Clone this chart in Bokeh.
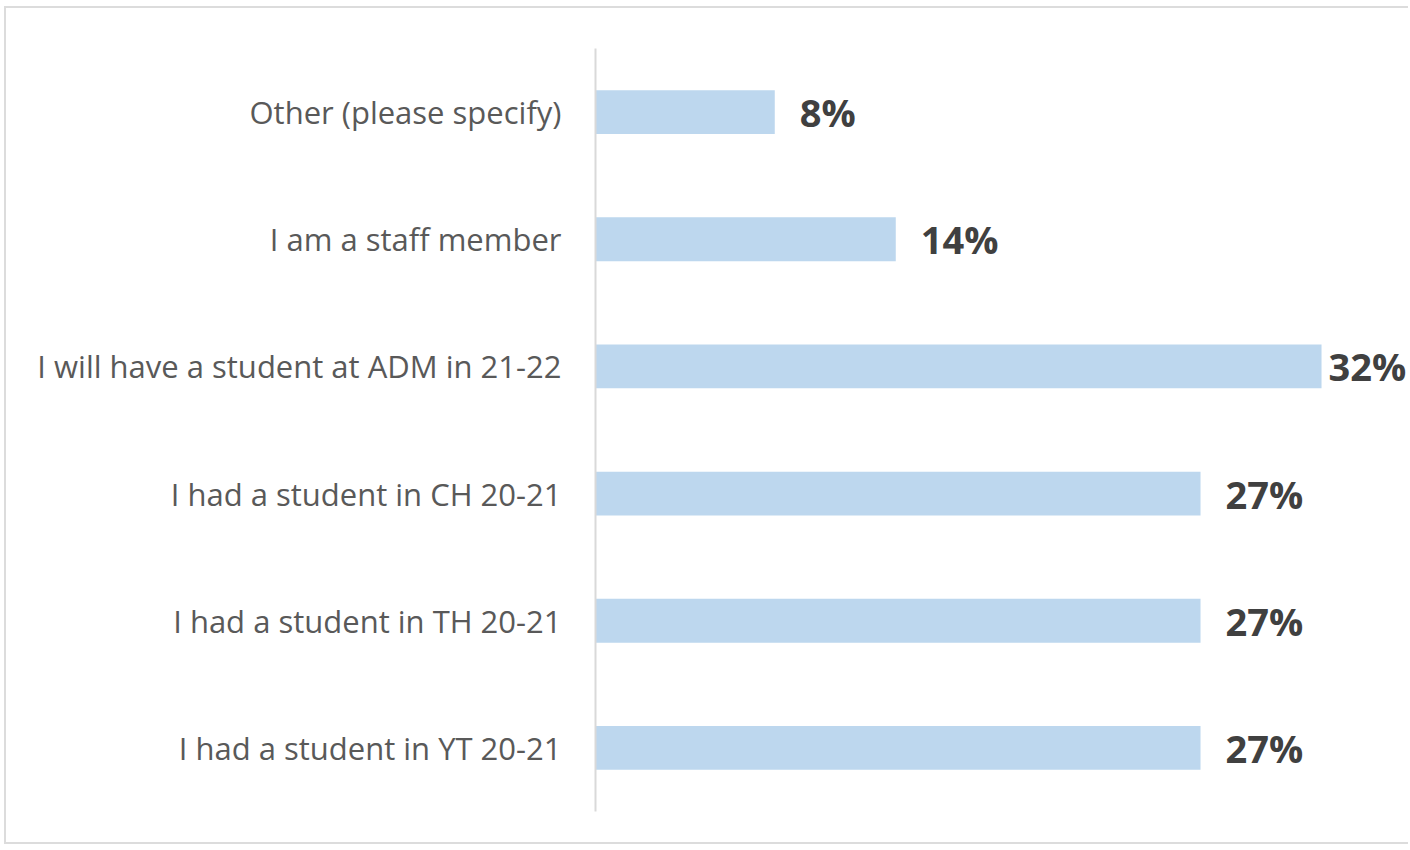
from bokeh.plotting import figure
from bokeh.models import ColumnDataSource, FactorRange, Range1d
from bokeh.core.properties import value
from bokeh.embed import file_html
from bokeh.resources import INLINE

# Data (top to bottom as shown)
categories = [
    "Other (please specify)",
    "I am a staff member",
    "I will have a student at ADM in 21-22",
    "I had a student in CH 20-21",
    "I had a student in TH 20-21",
    "I had a student in YT 20-21",
]
values = [8.0, 13.4, 32.4, 27.0, 27.0, 27.0]
value_labels = ["8%", "14%", "32%", "27%", "27%", "27%"]

vmax = max(values)
offsets = [7 if v == vmax else 25 for v in values]

src = ColumnDataSource(dict(cat=categories, val=values, lab=value_labels, off=offsets))

p = figure(
    width=1404, height=838,
    y_range=FactorRange(*reversed(categories), range_padding=0),
    x_range=Range1d(0, 36.37),
    output_backend="svg", toolbar_location=None,
    min_border_left=589, min_border_right=0, min_border_top=40, min_border_bottom=35,
    styles={
        "margin-left": "4px",
        "margin-top": "6px",
        "border-left": "2px solid #dcdcdc",
        "border-top": "2px solid #dcdcdc",
        "border-bottom": "2px solid #dcdcdc",
    },
)
p.background_fill_color = "white"
p.border_fill_color = "white"
p.outline_line_color = None

p.hbar(y="cat", right="val", left=0, height=0.345, source=src,
       fill_color="#bdd7ee", line_color=None)

p.text(x="val", y="cat", text="lab", source=src, x_offset="off",
       text_baseline="middle", text_align="left",
       text_font=value("Open Sans"), text_font_style="bold",
       text_font_size="38px", text_color="#404040")

p.xaxis.visible = False
p.xgrid.visible = False
p.ygrid.visible = False

ax = p.yaxis[0]
ax.axis_line_color = "#d9d9d9"
ax.axis_line_width = 2
ax.major_tick_line_color = None
ax.minor_tick_line_color = None
ax.major_label_standoff = 28
ax.major_label_text_font = "Open Sans"
ax.major_label_text_font_size = "31px"
ax.major_label_text_color = "#595959"

open("out.html", "w").write(file_html(p, INLINE))
